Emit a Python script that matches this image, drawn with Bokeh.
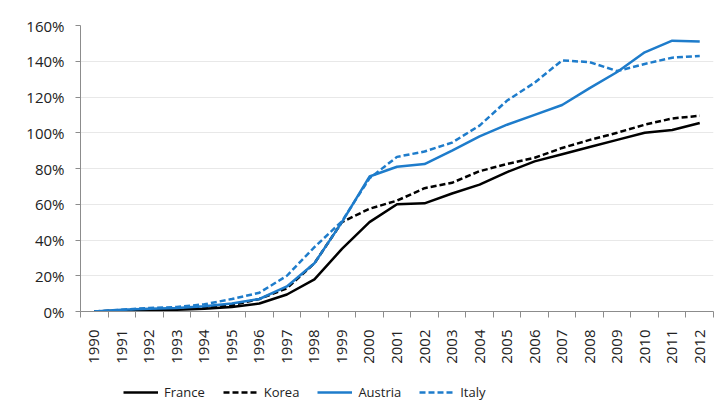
import math
from bokeh.plotting import figure
from bokeh.layouts import column
from bokeh.models import (Range1d, FixedTicker, PrintfTickFormatter, Legend, LegendItem)
from bokeh.embed import file_html
from bokeh.resources import INLINE

years = list(range(1990, 2013))
year_labels = [str(y) for y in years]

series_names = ["France", "Korea", "Austria", "Italy"]
france = [0, 0.5, 0.5, 1, 1.5, 2.5, 4.5, 9.5, 18, 35, 50, 60, 60.5, 66, 71, 78, 84, 88, 92, 96, 100, 101.5, 105.5]
korea = [0, 0.5, 1, 1.5, 2, 3.5, 7, 13, 27, 50, 57.5, 62, 69, 72, 78.5, 82.5, 86, 91.5, 96, 100, 104.5, 108, 109.5]
austria = [0, 1, 1.5, 2, 3, 4.5, 7, 14, 27, 50, 75.5, 81, 82.5, 90, 98, 104.5, 110, 115.5, 125, 134, 145, 151.5, 151]
italy = [0, 1, 2, 2.5, 4, 7, 10.5, 20, 36, 50.5, 74.5, 86.5, 89.5, 94.5, 104, 118, 128, 140.5, 139.5, 134.5, 138.5, 142, 143]

y_ticks = list(range(0, 161, 20))

FONT = "Open Sans"
BLUE = "#1E7CCB"
styles = [("black", None), ("black", "6 3"), (BLUE, None), (BLUE, "6 3")]
all_series = [france, korea, austria, italy]

p = figure(width=716, height=366, output_backend="svg", toolbar_location=None,
           x_range=Range1d(1989.5, 2012.5), y_range=Range1d(0, 160),
           min_border_left=80, min_border_top=25, min_border_right=3, min_border_bottom=54)
p.outline_line_color = None
p.background_fill_color = "white"
p.border_fill_color = "white"

p.xgrid.grid_line_color = None
p.ygrid.grid_line_color = "#e8e8e8"
p.ygrid.grid_line_width = 1

p.yaxis.ticker = FixedTicker(ticks=y_ticks)
p.yaxis.formatter = PrintfTickFormatter(format="%d%%")
p.yaxis.axis_line_color = "#8c8c8c"
p.yaxis.major_tick_line_color = "#8c8c8c"
p.yaxis.major_tick_out = 5
p.yaxis.major_tick_in = 0
p.yaxis.minor_tick_line_color = None
p.yaxis.major_label_text_font = FONT
p.yaxis.major_label_text_font_size = "15px"
p.yaxis.major_label_text_color = "#222222"
p.yaxis.major_label_standoff = 11

p.xaxis.ticker = FixedTicker(ticks=years, minor_ticks=[y - 0.5 for y in years] + [years[-1] + 0.5])
p.xaxis.major_label_overrides = {y: s for y, s in zip(years, year_labels)}
p.xaxis.major_tick_line_color = None
p.xaxis.minor_tick_line_color = "#8c8c8c"
p.xaxis.minor_tick_out = 6
p.xaxis.minor_tick_in = 0
p.xaxis.axis_line_color = "#8c8c8c"
p.xaxis.major_label_orientation = math.pi / 2
p.xaxis.major_label_text_font = FONT
p.xaxis.major_label_text_font_size = "15px"
p.xaxis.major_label_text_color = "#222222"
p.xaxis.major_label_standoff = 12

for vals, (col, dash) in zip(all_series, styles):
    kw = dict(line_color=col, line_width=2.5)
    if dash:
        kw["line_dash"] = dash
    p.line(years, vals, **kw)

# legend strip below the chart (its lines lie outside its own range, only the legend shows)
lg = figure(width=716, height=42, output_backend="svg", toolbar_location=None,
            x_axis_type=None, y_axis_type=None, x_range=Range1d(0, 1), y_range=Range1d(0, 1),
            min_border=0, min_border_left=0, min_border_right=0, min_border_top=0, min_border_bottom=0)
lg.outline_line_color = None
lg.xgrid.grid_line_color = None
lg.ygrid.grid_line_color = None
items = []
for name, vals, (col, dash) in zip(series_names, all_series, styles):
    kw = dict(line_color=col, line_width=2.5)
    if dash:
        kw["line_dash"] = dash
    r = lg.line(years, vals, **kw)
    items.append(LegendItem(label=name, renderers=[r]))

legend = Legend(items=items, orientation="horizontal", location=(43, 6), border_line_color=None,
                glyph_width=35, label_standoff=6, spacing=18, padding=4, margin=0,
                label_text_font=FONT, label_text_font_size="13px", label_text_color="#222222",
                background_fill_alpha=0)
lg.add_layout(legend)

layout = column(p, lg, spacing=0)
open("out.html", "w").write(file_html(layout, INLINE))
